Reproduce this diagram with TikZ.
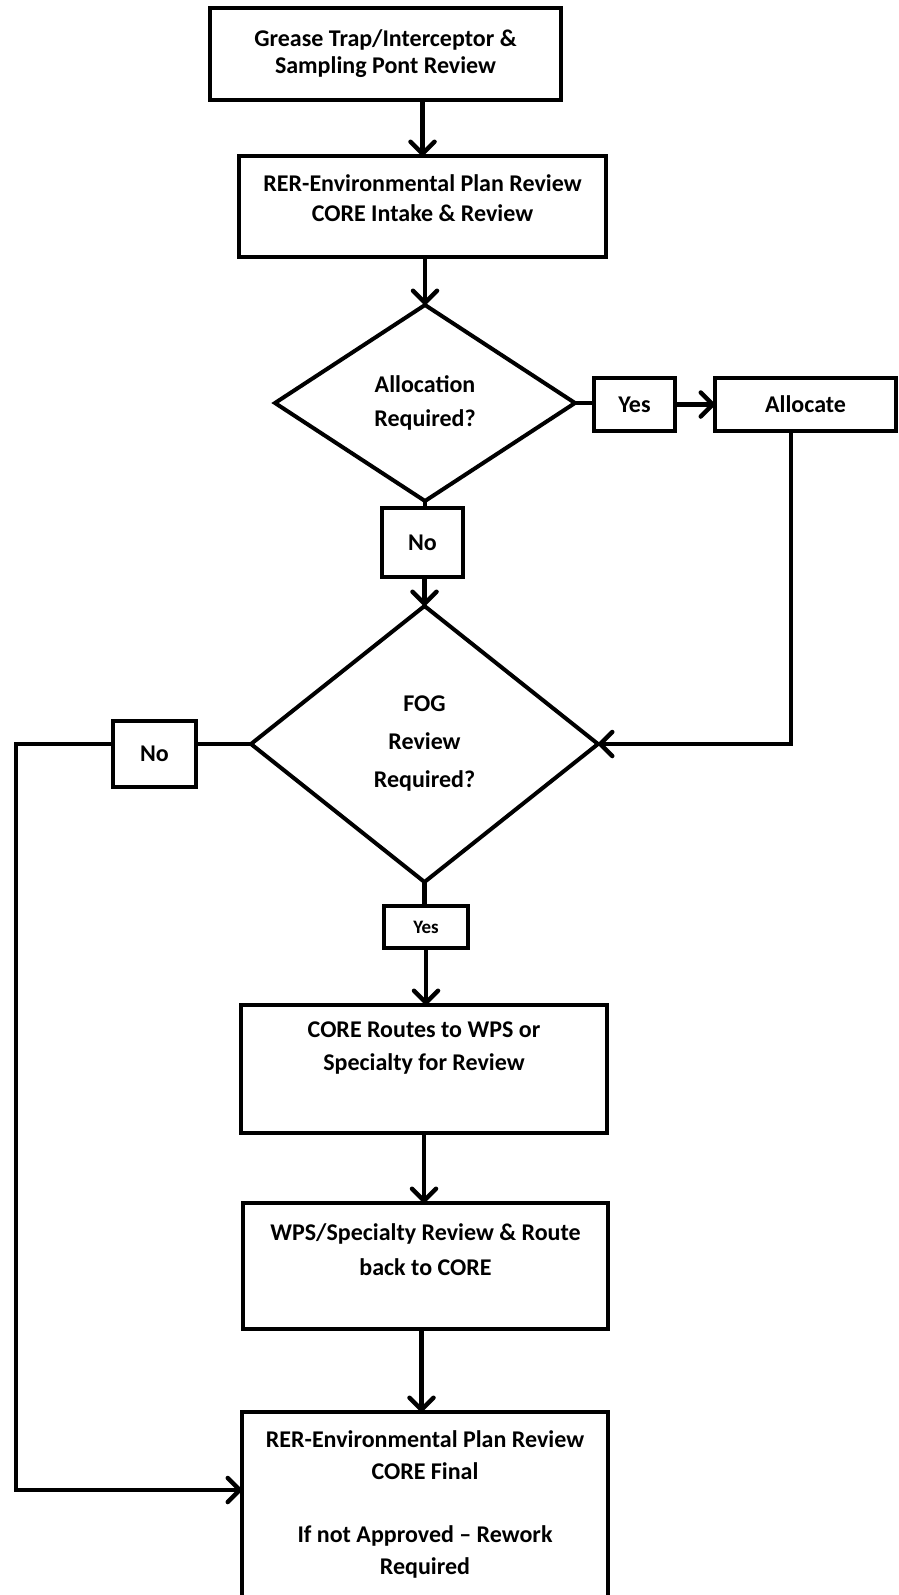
\documentclass[tikz,border=0pt]{standalone}
\usepackage{fontspec}
\setmainfont{Carlito}
\usetikzlibrary{shapes.geometric,arrows.meta}
\begin{document}
\begin{tikzpicture}[x=1pt,y=-1pt,
  every node/.style={inner sep=0pt, outer sep=0pt, align=center},
  fnt/.style 2 args={font=\fontsize{#1}{#2}\selectfont\bfseries},
  box/.style={draw, line width=4.5pt, rectangle},
  dia/.style={draw, line width=4pt, diamond},
  tag/.style={draw, line width=4pt, rectangle},
  link/.style={line width=4.5pt},
  arr/.style={line width=4.5pt, -{Straight Barb[length=12pt,width=24pt,round]}},
]
\useasboundingbox (0,0) rectangle (898,1595);
\fill[white] (0,0) rectangle (898,1595);

\node[box, fnt={24}{27}, minimum width=351pt, minimum height=92pt] (b1) at (385.5,54)
  {Grease Trap/Interceptor \&\\Sampling Pont Review};
\node[box, minimum width=367pt, minimum height=101pt] (b2) at (422.5,206.5) {};
\node[fnt={24}{30}] (b2t) at (422.5,198) {RER-Environmental Plan Review\\CORE Intake \& Review};

\node[dia, fnt={24}{34}, minimum width=300pt, minimum height=196pt] (d1) at (425,403)
  {Allocation\\Required?};
\node[tag, fnt={24}{30}, minimum width=81pt, minimum height=53pt] (y1) at (634.5,404.5) {Yes};
\node[tag, fnt={24}{30}, minimum width=181pt, minimum height=53pt] (al) at (805.5,404.5) {Allocate};
\node[tag, fnt={24}{30}, minimum width=81pt, minimum height=69pt] (n1) at (422.5,542.5) {No};

\node[dia, fnt={24}{38}, minimum width=347pt, minimum height=276pt] (d2) at (424.5,744)
  {FOG\\Review\\Required?};
\node[tag, fnt={24}{30}, minimum width=83pt, minimum height=66pt] (n2) at (154.5,754) {No};
\node[tag, fnt={19}{24}, minimum width=84pt, minimum height=42pt] (y2) at (426,927) {Yes};

\node[box, minimum width=366pt, minimum height=128pt] (b3) at (424,1069) {};
\node[fnt={24}{33}] (b3t) at (424,1048.5) {CORE Routes to WPS or\\Specialty for Review};
\node[box, minimum width=365pt, minimum height=126pt] (b4) at (425.5,1266) {};
\node[fnt={24}{35}] (b4t) at (425.5,1249.5) {WPS/Specialty Review \& Route\\back to CORE};
\node[box, minimum width=366pt, minimum height=213pt] (b5) at (425,1518.5) {};
\node[fnt={24}{32}] (b5t) at (425,1504) {RER-Environmental Plan Review\\CORE Final\\[31pt]If not Approved -- Rework\\Required};

\coordinate (lp) at (16,1490);

\draw[arr] (b1.south -| b2.north) -- (b2.north);
\draw[arr] (b2.south -| d1.north) -- (d1.north);
\draw[link] (d1.east) -- (y1.west |- d1.east);
\draw[arr] (y1.east) -- (al.west);
\draw[link] (d1.south) -- (d1.south |- n1.north);
\draw[arr] (n1.south -| d2.north) -- (d2.north);
\draw[arr] ([xshift=-14.5pt]al.south) |- (d2.east);
\draw[link] (d2.west) -- (n2.east |- d2.west);
\draw[arr] (n2.west |- d2.west) -- (lp |- d2.west) -- (lp) -- (lp -| b5.west);
\draw[link] (d2.south) -- (d2.south |- y2.north);
\draw[arr] (y2.south) -- (y2.south |- b3.north);
\draw[arr] (b3.south) -- (b3.south |- b4.north);
\draw[arr] ([xshift=-4pt]b4.south) -- ([xshift=-4pt]b4.south |- b5.north);
\end{tikzpicture}
\end{document}
